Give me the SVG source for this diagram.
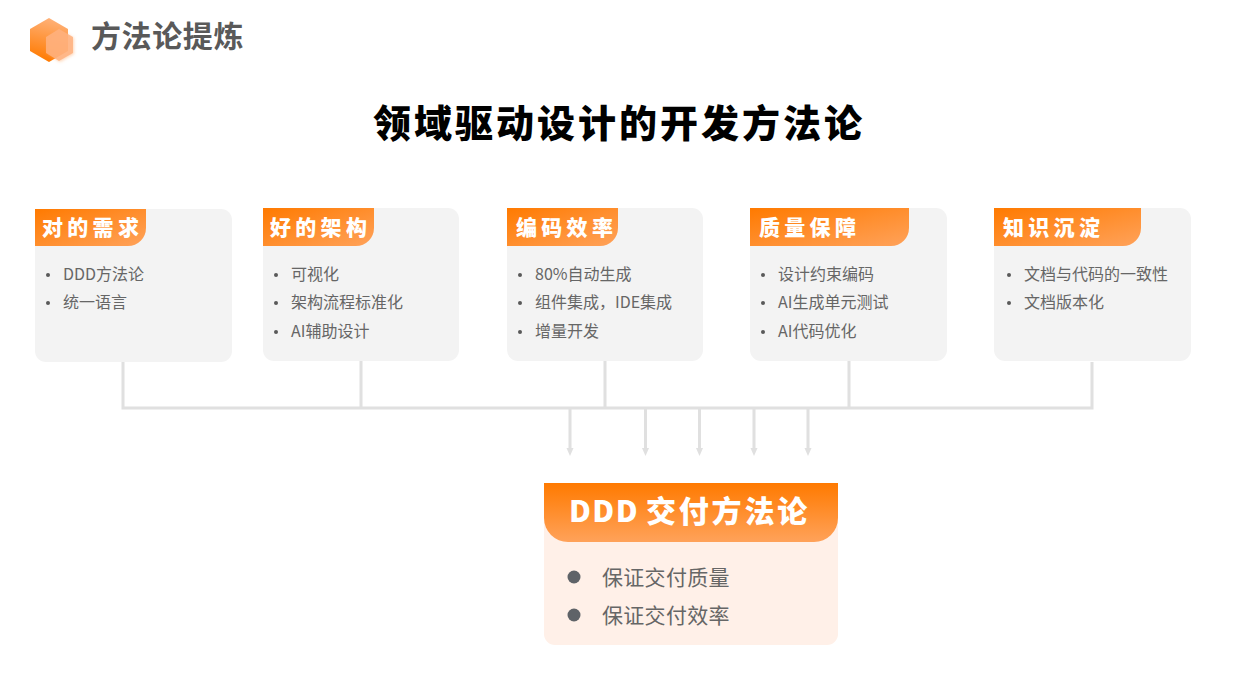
<svg xmlns="http://www.w3.org/2000/svg" width="1243" height="687" viewBox="0 0 1243 687">
<style>
text{font-family:"Noto Sans CJK SC","Noto Sans",sans-serif}
.h{font-size:30px;font-weight:700;fill:#595959;letter-spacing:.6px}
.t{font-size:38px;font-weight:900;fill:#000;letter-spacing:3px}
.tab{font-size:21px;font-weight:900;fill:#fff;letter-spacing:4.300px}
.li{font-size:16px;fill:#666}
.dot{fill:#595959}
.card{fill:#f3f3f3}
.wire{fill:none;stroke:#e0e0e0;stroke-width:3}
.big{font-size:30px;font-weight:900;fill:#fff;letter-spacing:2.800px}
.bl{font-size:21px;fill:#666;letter-spacing:.3px}
</style>
<defs>
<linearGradient id="tg" x1="0" y1="0" x2="1" y2="1"><stop offset="0" stop-color="#ff7a00"/><stop offset="1" stop-color="#ffa25a"/></linearGradient>
<linearGradient id="bg" x1="0" y1="0" x2="0" y2="1"><stop offset="0" stop-color="#ff7a00"/><stop offset="1" stop-color="#ffa25a"/></linearGradient>
<linearGradient id="hg" x1="0.6" y1="0" x2="0.4" y2="1"><stop offset="0" stop-color="#ffb27a"/><stop offset="1" stop-color="#ff7a00"/></linearGradient>
<filter id="sh" x="-30%" y="-30%" width="160%" height="160%"><feDropShadow dx="1" dy="1" stdDeviation="1.5" flood-color="#ffa25a" flood-opacity=".5"/></filter>
</defs>
<g id="header">
<path d="M49 18L68 29V51L49 62L30 51V29Z" fill="url(#hg)"/>
<path d="M59 29L73 37V53L59 61L46 53V37Z" fill="#ffb27f" fill-opacity=".85" filter="url(#sh)"/>
<text class="h" x="91" y="47">方法论提炼</text>
</g>
<text class="t" x="373" y="137">领域驱动设计的开发方法论</text>
<g id="connectors">
<path class="wire" d="M123 362V408H1092V362M361 361V408M605 361V408M849 361V408"/>
<g fill="#e0e0e0">
<path class="wire" d="M570 409V449M645.500 409V449M699.500 409V449M754 409V449M808 409V449"/>
<path d="M566.500 448H573.500L570 456ZM642 448H649L645.500 456ZM696 448H703L699.500 456ZM750.500 448H757.500L754 456ZM804.500 448H811.500L808 456Z"/>
</g>
</g>
<g id="card1">
<rect class="card" x="35" y="209" width="197" height="153" rx="11"/>
<path d="M35 209H146V228A18 18 0 0 1 128 246H35Z" fill="url(#tg)"/>
<text class="tab" x="42" y="235">对的需求</text>
<circle class="dot" cx="48" cy="275" r="2"/><text class="li" x="63" y="280">DDD方法论</text>
<circle class="dot" cx="48" cy="303" r="2"/><text class="li" x="63" y="308">统一语言</text>
</g>
<g id="card2">
<rect class="card" x="263" y="208" width="196" height="153" rx="11"/>
<path d="M263 208H374V228A18 18 0 0 1 356 246H263Z" fill="url(#tg)"/>
<text class="tab" x="270" y="235">好的架构</text>
<circle class="dot" cx="276" cy="275" r="2"/><text class="li" x="291" y="280">可视化</text>
<circle class="dot" cx="276" cy="303" r="2"/><text class="li" x="291" y="308">架构流程标准化</text>
<circle class="dot" cx="276" cy="332" r="2"/><text class="li" x="291" y="337">AI辅助设计</text>
</g>
<g id="card3">
<rect class="card" x="507" y="208" width="196" height="153" rx="11"/>
<path d="M507 208H618V228A18 18 0 0 1 600 246H507Z" fill="url(#tg)"/>
<text class="tab" x="516" y="235">编码效率</text>
<circle class="dot" cx="520" cy="275" r="2"/><text class="li" x="535" y="280">80%自动生成</text>
<circle class="dot" cx="520" cy="303" r="2"/><text class="li" x="535" y="308">组件集成，IDE集成</text>
<circle class="dot" cx="520" cy="332" r="2"/><text class="li" x="535" y="337">增量开发</text>
</g>
<g id="card4">
<rect class="card" x="750" y="208" width="197" height="153" rx="11"/>
<path d="M750 208H909V228A18 18 0 0 1 891 246H750Z" fill="url(#tg)"/>
<text class="tab" x="759" y="235">质量保障</text>
<circle class="dot" cx="763" cy="275" r="2"/><text class="li" x="778" y="280">设计约束编码</text>
<circle class="dot" cx="763" cy="303" r="2"/><text class="li" x="778" y="308">AI生成单元测试</text>
<circle class="dot" cx="763" cy="332" r="2"/><text class="li" x="778" y="337">AI代码优化</text>
</g>
<g id="card5">
<rect class="card" x="994" y="208" width="197" height="153" rx="11"/>
<path d="M994 208H1141V228A18 18 0 0 1 1123 246H994Z" fill="url(#tg)"/>
<text class="tab" x="1003" y="235">知识沉淀</text>
<circle class="dot" cx="1009" cy="275" r="2"/><text class="li" x="1024" y="280">文档与代码的一致性</text>
<circle class="dot" cx="1009" cy="303" r="2"/><text class="li" x="1024" y="308">文档版本化</text>
</g>
<g id="ddd">
<path d="M544 483H838V634A11 11 0 0 1 827 645H555A11 11 0 0 1 544 634Z" fill="#fff0e8"/>
<path d="M544 483H838V518A24 24 0 0 1 814 542H568A24 24 0 0 1 544 518Z" fill="url(#bg)"/>
<text class="big" y="522"><tspan x="569" style="letter-spacing:1.500px">DDD</tspan><tspan x="646">交付方法论</tspan></text>
<circle class="dot" cx="574" cy="577" r="6.500" style="fill:#5f6368"/><text class="bl" x="602" y="585">保证交付质量</text>
<circle class="dot" cx="574" cy="615" r="6.500" style="fill:#5f6368"/><text class="bl" x="602" y="623">保证交付效率</text>
</g>
</svg>
